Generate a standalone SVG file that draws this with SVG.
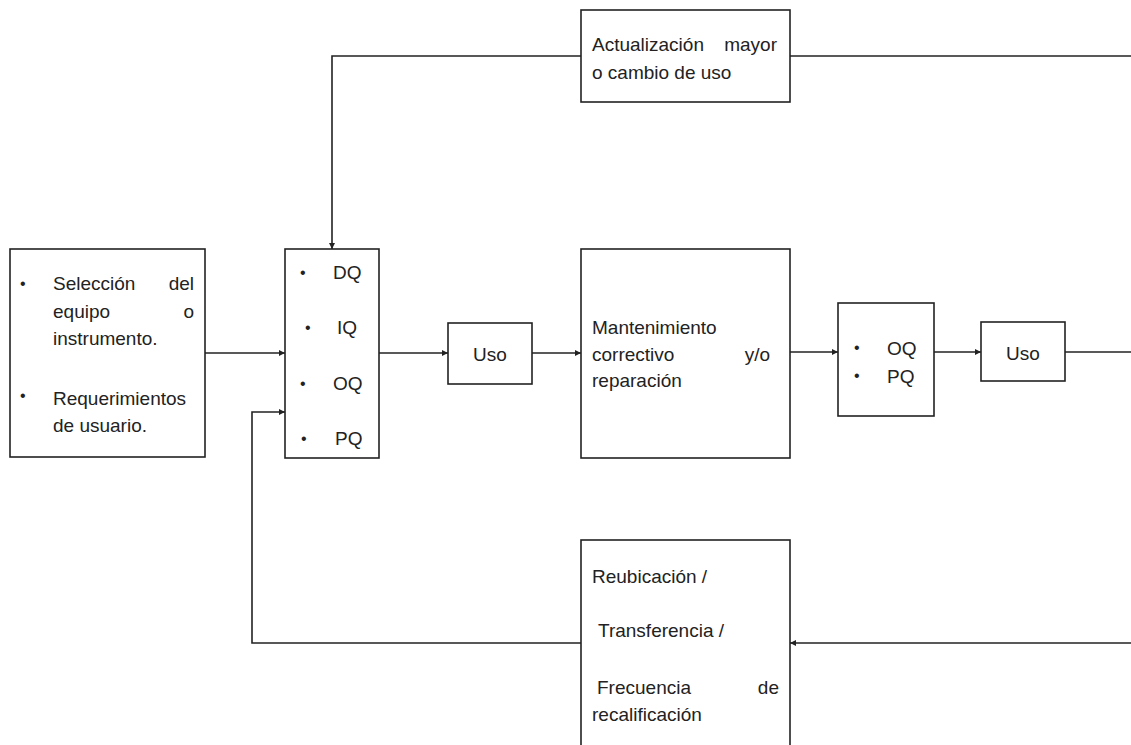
<svg xmlns="http://www.w3.org/2000/svg" width="1131" height="745" viewBox="0 0 1131 745">
<style>
.box{fill:#fff;stroke:#222;stroke-width:1.6}
.t{font-family:"Liberation Sans",Arial,sans-serif;font-size:19px;fill:#222}
.b{font-family:"Liberation Sans",Arial,sans-serif;font-size:16px;fill:#222}
.e{text-anchor:end}
.c{fill:none;stroke:#222;stroke-width:1.6}
</style>
<defs>
<marker id="ah" viewBox="0 0 10 10" refX="10" refY="5" markerWidth="6" markerHeight="6" markerUnits="userSpaceOnUse" orient="auto">
<path d="M0,0 L10,5 L0,10 z" fill="#222"/>
</marker>
</defs>
<rect x="0" y="0" width="1131" height="745" fill="#fff"/>
<g id="connectors">
<line class="c" x1="205" y1="353" x2="285" y2="353" marker-end="url(#ah)"/>
<line class="c" x1="379" y1="353" x2="448" y2="353" marker-end="url(#ah)"/>
<line class="c" x1="532" y1="353" x2="581" y2="353" marker-end="url(#ah)"/>
<line class="c" x1="790" y1="352" x2="838" y2="352" marker-end="url(#ah)"/>
<line class="c" x1="934" y1="352" x2="981" y2="352" marker-end="url(#ah)"/>
<line class="c" x1="1065" y1="352" x2="1131" y2="352"/>
<line class="c" x1="1131" y1="643" x2="790" y2="643" marker-end="url(#ah)"/>
<polyline class="c" points="581,643 252,643 252,412 285,412" marker-end="url(#ah)"/>
<line class="c" x1="1131" y1="56" x2="790" y2="56"/>
<polyline class="c" points="581,56 332,56 332,249" marker-end="url(#ah)"/>
</g>
<g id="seleccion">
<rect class="box" x="10" y="249" width="195" height="208"/>
<text class="b" x="20" y="289">•</text>
<text class="t" x="53" y="290">Selección</text>
<text class="t e" x="194" y="290">del</text>
<text class="t" x="53" y="318">equipo</text>
<text class="t e" x="194" y="318">o</text>
<text class="t" x="53" y="345">instrumento.</text>
<text class="b" x="20" y="401">•</text>
<text class="t" x="53" y="405">Requerimientos</text>
<text class="t" x="53" y="432">de usuario.</text>
</g>
<g id="calificacion">
<rect class="box" x="285" y="249" width="94" height="209"/>
<text class="b" x="300" y="278">•</text>
<text class="t" x="333" y="279">DQ</text>
<text class="b" x="305" y="333">•</text>
<text class="t" x="337" y="334">IQ</text>
<text class="b" x="300" y="389">•</text>
<text class="t" x="333" y="390">OQ</text>
<text class="b" x="301" y="444">•</text>
<text class="t" x="335" y="445">PQ</text>
</g>
<g id="uso1">
<rect class="box" x="448" y="323" width="84" height="61"/>
<text class="t" x="490" y="361" text-anchor="middle">Uso</text>
</g>
<g id="mantenimiento">
<rect class="box" x="581" y="249" width="209" height="209"/>
<text class="t" x="592" y="334">Mantenimiento</text>
<text class="t" x="592" y="361">correctivo</text>
<text class="t e" x="770" y="361">y/o</text>
<text class="t" x="592" y="387">reparación</text>
</g>
<g id="oqpq">
<rect class="box" x="838" y="303" width="96" height="113"/>
<text class="b" x="854" y="353">•</text>
<text class="t" x="887" y="355">OQ</text>
<text class="b" x="854" y="381">•</text>
<text class="t" x="887" y="383">PQ</text>
</g>
<g id="uso2">
<rect class="box" x="981" y="322" width="84" height="59"/>
<text class="t" x="1023" y="360" text-anchor="middle">Uso</text>
</g>
<g id="actualizacion">
<rect class="box" x="581" y="10" width="209" height="92"/>
<text class="t" x="592" y="51">Actualización</text>
<text class="t e" x="777" y="51">mayor</text>
<text class="t" x="592" y="79">o cambio de uso</text>
</g>
<g id="reubicacion">
<rect class="box" x="581" y="540" width="209" height="215"/>
<text class="t" x="592" y="583">Reubicación /</text>
<text class="t" x="598" y="637">Transferencia /</text>
<text class="t" x="597" y="694">Frecuencia</text>
<text class="t e" x="779" y="694">de</text>
<text class="t" x="592" y="721">recalificación</text>
</g>
</svg>
